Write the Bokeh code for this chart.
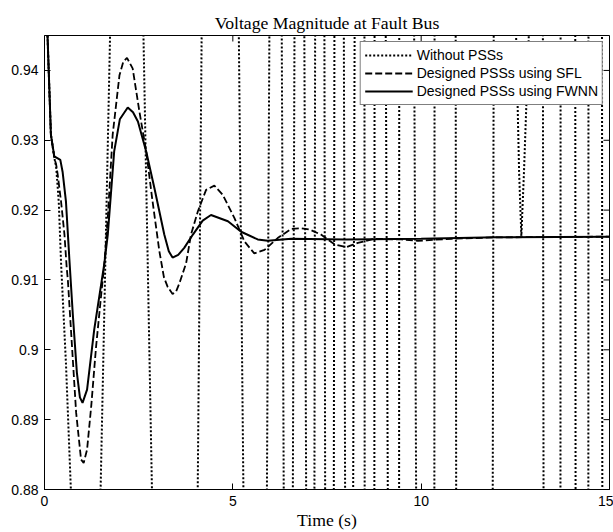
from bokeh.plotting import figure
from bokeh.models import FixedTicker, Range1d
from bokeh.embed import file_html
from bokeh.resources import INLINE

# ---------------- data ----------------
title_text = "Voltage Magnitude at Fault Bus"
x_label = "Time (s)"
series_names = ["Without PSSs", "Designed PSSs using SFL", "Designed PSSs using FWNN"]

x_limits = [0, 15]
y_limits = [0.88, 0.945]
x_ticks = [0, 5, 10, 15]
y_ticks = [0.88, 0.89, 0.90, 0.91, 0.92, 0.93, 0.94]
y_tick_labels = ["0.88", "0.89", "0.9", "0.91", "0.92", "0.93", "0.94"]

# Without PSSs: wild oscillation, leaves the window; values beyond the window are estimates
t_wo = [0.0, 0.08, 0.17, 0.26, 0.31, 0.38, 0.44, 0.57, 0.70, 0.72,
        1.47, 1.76, 2.61, 2.87, 4.06, 4.18, 5.15, 5.29, 5.90, 5.975,
        6.295, 6.355, 6.59, 6.64, 6.895, 6.95, 7.165, 7.186, 7.43, 7.452,
        7.68, 7.698, 7.945, 7.983, 8.192, 8.236, 8.494, 8.50, 8.757, 8.763,
        9.055, 9.118, 9.414, 9.418, 9.81, 9.87, 10.35, 10.356, 10.915, 10.93,
        11.898, 11.928, 12.50, 12.60, 12.66, 12.73, 12.89, 13.23, 13.25, 13.698,
        13.702, 14.09, 14.10, 14.438, 14.442, 14.80, 14.81, 15.0]
v_wo = [1.0, 0.945, 0.9308, 0.9275, 0.9262, 0.921, 0.9124, 0.898, 0.88, 0.875,
        0.875, 0.95, 0.95, 0.875, 0.875, 0.95, 0.95, 0.875, 0.875, 0.95,
        0.95, 0.875, 0.875, 0.95, 0.95, 0.875, 0.875, 0.95, 0.95, 0.875,
        0.875, 0.95, 0.95, 0.875, 0.875, 0.95, 0.95, 0.875, 0.875, 0.95,
        0.95, 0.875, 0.875, 0.95, 0.95, 0.875, 0.875, 0.95, 0.95, 0.875,
        0.875, 0.95, 0.95, 0.9255, 0.9163, 0.9255, 0.95, 0.95, 0.875, 0.875,
        0.95, 0.95, 0.875, 0.875, 0.95, 0.95, 0.875, 0.875]

# Designed PSSs using SFL
t_sfl = [0.0, 0.08, 0.17, 0.26, 0.31, 0.35, 0.44, 0.53, 0.59, 0.62,
         0.73, 0.84, 0.97, 1.04, 1.13, 1.24, 1.37, 1.50, 1.59, 1.68,
         1.81, 1.99, 2.09, 2.19, 2.34, 2.52, 2.70, 2.87, 3.05, 3.17,
         3.27, 3.40, 3.49, 3.58, 3.76, 3.89, 4.07, 4.29, 4.51, 4.73,
         5.04, 5.31, 5.57, 5.84, 6.19, 6.55, 6.81, 7.05, 7.34, 7.70,
         8.01, 8.32, 8.76, 9.47, 9.91, 10.8, 12.0, 15.0]
v_sfl = [1.0, 0.945, 0.9308, 0.9275, 0.9265, 0.9251, 0.9212, 0.9165, 0.9117, 0.9100,
         0.9005, 0.8910, 0.8843, 0.8838, 0.8857, 0.8919, 0.9005, 0.9076, 0.9124, 0.9189,
         0.9308, 0.9393, 0.9412, 0.9418, 0.9403, 0.9341, 0.9284, 0.9212, 0.9141, 0.9104,
         0.9090, 0.9080, 0.9083, 0.9095, 0.9124, 0.9165, 0.9198, 0.9229, 0.9235, 0.9222,
         0.9189, 0.9155, 0.9138, 0.9143, 0.9160, 0.9173, 0.9174, 0.9172, 0.9165, 0.9151,
         0.9147, 0.9153, 0.9159, 0.9158, 0.9156, 0.9159, 0.9161, 0.9162]

# Designed PSSs using FWNN
t_fwnn = [0.0, 0.08, 0.17, 0.26, 0.42, 0.48, 0.57, 0.66, 0.75, 0.86,
          0.94, 1.01, 1.13, 1.32, 1.59, 1.68, 1.85, 2.00, 2.21, 2.35,
          2.48, 2.70, 2.92, 3.18, 3.30, 3.40, 3.55, 3.71, 3.94, 4.20,
          4.42, 4.87, 5.22, 5.66, 5.93, 6.55, 8.0, 10.0, 12.0, 15.0]
v_fwnn = [1.0, 0.945, 0.9308, 0.9277, 0.9272, 0.9255, 0.9212, 0.9130, 0.9052, 0.8967,
          0.8932, 0.8924, 0.8943, 0.9029, 0.9124, 0.9165, 0.9284, 0.9330, 0.9347, 0.9340,
          0.9327, 0.9284, 0.9231, 0.9165, 0.9141, 0.9132, 0.9136, 0.9146, 0.9165, 0.9185,
          0.9193, 0.9184, 0.9169, 0.9158, 0.9156, 0.9159, 0.9158, 0.9159, 0.9161, 0.9162]

# ---------------- figure ----------------
p = figure(width=613, height=532, output_backend="svg", toolbar_location=None,
           x_range=Range1d(*x_limits), y_range=Range1d(*y_limits),
           min_border_left=44, min_border_right=4, min_border_top=35, min_border_bottom=41,
           background_fill_color="white", border_fill_color="white")

p.title.text = title_text
p.title.align = "center"
p.title.text_font = "Liberation Serif"
p.title.text_font_size = "17.7px"
p.title.text_font_style = "normal"
p.title.text_color = "black"
p.title.standoff = 5

p.xgrid.visible = False
p.ygrid.visible = False
p.outline_line_color = "black"
p.outline_line_alpha = 1.0

xt = FixedTicker(ticks=x_ticks)
yt = FixedTicker(ticks=y_ticks)
overrides = {v: s for v, s in zip(y_ticks, y_tick_labels)}

for ax in p.xaxis:
    ax.ticker = xt
for ax in p.yaxis:
    ax.ticker = yt
    ax.major_label_overrides = overrides

for ax in list(p.xaxis) + list(p.yaxis):
    ax.major_tick_in = 6
    ax.major_tick_out = 0
    ax.minor_tick_line_color = None
    ax.axis_line_color = "black"
    ax.major_tick_line_color = "black"
    ax.major_label_text_font = "Liberation Sans"
    ax.major_label_text_font_size = "14px"
    ax.major_label_text_color = "black"
p.yaxis.major_label_standoff = 6
p.xaxis.major_label_standoff = 6

p.xaxis.axis_label = x_label
p.xaxis.axis_label_text_font = "Liberation Serif"
p.xaxis.axis_label_text_font_size = "17.7px"
p.xaxis.axis_label_text_font_style = "normal"
p.xaxis.axis_label_text_color = "black"
p.xaxis.axis_label_standoff = 1

# mirrored inward tick marks on the top and right edges of the box
p.ray(x=x_ticks, y=[y_limits[1]] * len(x_ticks), length=6, length_units="screen",
      angle=-90, angle_units="deg", line_color="black", line_width=1)
p.ray(x=[x_limits[1]] * len(y_ticks), y=y_ticks, length=6, length_units="screen",
      angle=180, angle_units="deg", line_color="black", line_width=1)

p.line(t_wo, v_wo, line_color="black", line_width=2, line_dash="2 2",
       legend_label=series_names[0])
p.line(t_sfl, v_sfl, line_color="black", line_width=1.8, line_dash="7 3",
       legend_label=series_names[1])
p.line(t_fwnn, v_fwnn, line_color="black", line_width=2,
       legend_label=series_names[2])

lg = p.legend[0]
lg.location = "top_right"
lg.border_line_color = "black"
lg.border_line_width = 1
lg.background_fill_color = "white"
lg.background_fill_alpha = 1.0
lg.label_text_font = "Liberation Sans"
lg.label_text_font_size = "14px"
lg.label_text_color = "black"
lg.glyph_width = 48
lg.glyph_height = 18
lg.label_height = 18
lg.label_standoff = 4
lg.spacing = 0
lg.padding = 4
lg.margin = 6

open("out.html", "w").write(file_html(p, INLINE))
